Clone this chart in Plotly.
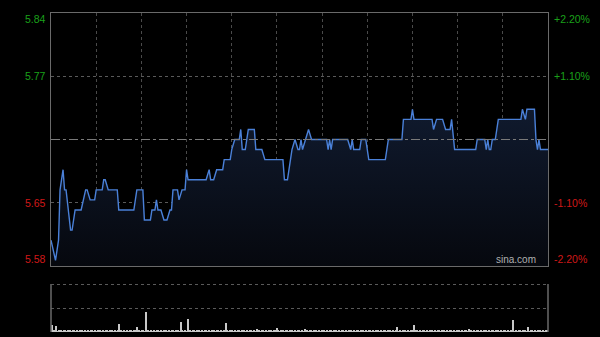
import plotly.graph_objects as go

# ---- data ----
prev_close = 5.71
pct_ticks = [0.022, 0.011, -0.011, -0.022]
pct_labels = ["+2.20%", "+1.10%", "-1.10%", "-2.20%"]
price_labels = ["5.84", "5.77", "5.65", "5.58"]

# minute from 09:30 (HK session, 330 minutes) and price at change points
minutes = [0, 3, 5, 6, 8, 9, 10, 13, 14, 15, 16, 20, 23, 24, 26, 29, 30, 34, 35, 36, 38, 44, 45,
           55, 57, 61, 62, 66, 67, 69, 70, 71, 73, 75, 77, 79, 80, 81, 84, 85, 87, 89, 90, 91,
           103, 105, 106, 108, 110, 114, 115, 119, 120, 122, 125, 126, 127, 129, 131, 135, 136,
           140, 142, 154, 155, 157, 159, 160, 162, 164, 165, 166, 167, 169, 171, 173, 183, 184,
           185, 186, 187, 197, 199, 200, 201, 205, 206, 209, 211, 222, 224, 233, 234, 239, 240,
           241, 253, 254, 256, 260, 262, 265, 266, 268, 282, 283, 288, 289, 290, 291, 292, 293,
           295, 297, 312, 313, 315, 316, 321, 322, 323, 324, 325, 330]
prices = [5.61, 5.59, 5.61, 5.66, 5.68, 5.66, 5.66, 5.62, 5.62, 5.63, 5.64, 5.64, 5.66, 5.66, 5.65,
          5.65, 5.66, 5.66, 5.67, 5.67, 5.66, 5.66, 5.64,
          5.64, 5.66, 5.66, 5.63, 5.63, 5.64, 5.64, 5.65, 5.64, 5.64, 5.63, 5.63, 5.64, 5.64, 5.66,
          5.66, 5.65, 5.66, 5.66, 5.68, 5.67,
          5.67, 5.68, 5.67, 5.67, 5.68, 5.68, 5.69, 5.69, 5.70, 5.71, 5.71, 5.72, 5.70, 5.70, 5.72,
          5.72, 5.70,
          5.70, 5.69, 5.69, 5.67, 5.67, 5.69, 5.70, 5.71, 5.70, 5.70, 5.71, 5.70, 5.71, 5.72, 5.71,
          5.71, 5.70,
          5.71, 5.70, 5.71, 5.71, 5.70, 5.71, 5.70, 5.70, 5.71, 5.71, 5.69, 5.69, 5.71, 5.71, 5.73,
          5.73, 5.74,
          5.73, 5.73, 5.72, 5.73, 5.73, 5.72, 5.72, 5.73, 5.70, 5.70, 5.71, 5.71, 5.70, 5.71, 5.70,
          5.70, 5.71,
          5.71, 5.73, 5.73, 5.74, 5.73, 5.74, 5.74, 5.71, 5.70, 5.71, 5.70, 5.70]

# per-minute volume (arbitrary units)
volume = [
    73, 12, 15, 63, 10, 14, 12, 10, 15, 12, 10, 14, 12, 10, 12, 15, 10, 12, 10, 14, 12, 10, 12, 10, 14, 10, 12, 15, 10, 12,
    10, 12, 14, 10, 12, 10, 15, 12, 10, 12, 14, 10, 12, 10, 12, 83, 12, 10, 14, 10, 12, 10, 12, 15, 10, 12, 14, 47, 12, 10,
    12, 14, 10, 203, 12, 10, 14, 10, 12, 10, 12, 15, 10, 12, 10, 14, 12, 10, 12, 10, 14, 12, 10, 15, 12, 10, 103, 12, 10, 14,
    10, 130, 12, 10, 14, 12, 10, 12, 15, 10, 12, 10, 14, 12, 10, 12, 10, 14, 12, 10, 12, 15, 10, 12, 10, 14, 93, 12, 10, 12,
    14, 10, 12, 10, 15, 12, 10, 12, 14, 10, 12, 10, 12, 15, 10, 12, 10, 30, 12, 10, 14, 12, 10, 12, 10, 15, 12, 10, 12, 14,
    40, 12, 10, 14, 12, 10, 12, 15, 10, 12, 14, 10, 12, 10, 12, 15, 10, 12, 10, 30, 12, 10, 14, 12, 10, 12, 15, 10, 12, 10,
    14, 12, 10, 12, 10, 15, 12, 10, 12, 14, 10, 12, 10, 12, 15, 10, 12, 10, 14, 12, 10, 12, 10, 15, 12, 10, 12, 14, 10, 12,
    10, 12, 15, 10, 12, 10, 14, 12, 10, 12, 10, 15, 12, 10, 12, 14, 10, 12, 10, 12, 50, 10, 12, 10, 14, 12, 10, 12, 10, 15,
    12, 67, 12, 14, 10, 12, 10, 12, 15, 10, 12, 10, 14, 12, 10, 12, 10, 15, 12, 10, 12, 14, 10, 12, 10, 12, 15, 10, 12, 10,
    14, 12, 10, 12, 10, 15, 12, 10, 30, 14, 10, 12, 10, 12, 15, 10, 12, 10, 14, 12, 10, 12, 10, 15, 12, 10, 12, 14, 10, 12,
    10, 12, 15, 10, 12, 10, 14, 123, 10, 12, 10, 15, 12, 10, 12, 14, 10, 47, 10, 12, 15, 10, 12, 10, 14, 12, 10, 12, 10, 15,
    12, 10, 12, 123, 10, 12, 10, 40, 15, 10, 12,
]
vol_minutes = list(range(len(volume)))

# ---- derived scale values ----
y_lo = prev_close * (1 - 0.022)
y_hi = prev_close * (1 + 0.022)

fig = go.Figure()

# baseline for fill
fig.add_trace(go.Scatter(x=[minutes[0], minutes[-1]], y=[y_lo, y_lo], mode="lines",
                         line=dict(width=0, color="rgba(0,0,0,0)"), hoverinfo="skip",
                         showlegend=False, xaxis="x", yaxis="y"))
fig.add_trace(go.Scatter(x=minutes, y=prices, mode="lines",
                         line=dict(color="#4a80d8", width=1.4),
                         fill="tonexty",
                         fillgradient=dict(type="vertical", start=y_lo, stop=max(prices),
                                           colorscale=[[0, "rgb(6,8,14)"], [1, "rgb(16,26,46)"]]),
                         showlegend=False, xaxis="x", yaxis="y"))

fig.add_trace(go.Bar(x=vol_minutes, y=volume, width=0.7,
                     marker=dict(color="#c8c8c8", line=dict(width=0)),
                     showlegend=False, xaxis="x2", yaxis="y2"))

grid_color = "#4a4a4a"
border_color = "#6a6a6a"

fig.update_layout(
    width=600, height=337,
    margin=dict(l=0, r=0, t=0, b=0),
    paper_bgcolor="black", plot_bgcolor="black",
    font=dict(family="Liberation Sans, Arial", size=10),
    xaxis=dict(domain=[51 / 600, 548 / 600], range=[0, 330], dtick=30, tick0=0,
               showgrid=True, gridcolor=grid_color, griddash="dot", gridwidth=1,
               showticklabels=False, zeroline=False, ticks="",
               showline=True, linecolor=border_color, mirror=True, anchor="y"),
    yaxis=dict(domain=[1 - 266 / 337, 1 - 13 / 337], range=[y_lo, y_hi],
               tickvals=[prev_close * (1 + 0.011), prev_close * (1 - 0.011)],
               showgrid=True, gridcolor="#5a5a5a", griddash="dot",
               showticklabels=False, zeroline=False, ticks="",
               showline=True, linecolor=border_color, mirror=True, anchor="x"),
    xaxis2=dict(domain=[51 / 600, 548 / 600], range=[-0.5, 330.5], showgrid=False,
                showticklabels=False, zeroline=False, ticks="", anchor="y2"),
    yaxis2=dict(domain=[1 - 332 / 337, 1 - 285 / 337], range=[0, 470],
                tickvals=[235], showgrid=True, gridcolor="#5a5a5a", griddash="dot",
                showticklabels=False, zeroline=False, ticks="", anchor="x2"),
    bargap=0,
)

# previous close line
fig.add_shape(type="line", xref="x", yref="y", x0=0, x1=330, y0=prev_close, y1=prev_close,
              line=dict(color="#7a7a7a", width=1, dash="dashdot"))
# volume pane side borders and dotted top
for xv in [51 / 600, 548 / 600]:
    fig.add_shape(type="line", xref="paper", yref="paper", x0=xv, x1=xv,
                  y0=1 - 332 / 337, y1=1 - 284 / 337, line=dict(color=border_color, width=1.5))
fig.add_shape(type="line", xref="paper", yref="paper", x0=51 / 600, x1=548 / 600,
              y0=1 - 284.5 / 337, y1=1 - 284.5 / 337, line=dict(color="#5a5a5a", width=1, dash="dot"))

# axis labels
for pct, pl, rl in zip(pct_ticks, price_labels, pct_labels):
    col = "#1aa01a" if pct > 0 else "#d01818"
    yv = prev_close * (1 + pct)
    if abs(pct) > 0.015:
        ya = "top" if pct > 0 else "bottom"
        yshift = 2 if pct > 0 else -1
    else:
        ya = "middle"
        yshift = 0
    fig.add_annotation(xref="paper", yref="y", x=48 / 600, y=yv, text=pl, showarrow=False,
                       xanchor="right", yanchor=ya, yshift=yshift, font=dict(color=col, size=10.5))
    fig.add_annotation(xref="paper", yref="y", x=552 / 600, y=yv, text=rl, showarrow=False,
                       xanchor="left", yanchor=ya, yshift=yshift, font=dict(color=col, size=10.5))

fig.add_annotation(xref="paper", yref="paper", x=538 / 600, y=1 - 267 / 337, text="sina.com",
                   showarrow=False, xanchor="right", yanchor="bottom",
                   font=dict(color="#b0b0b0", size=10))

fig.write_html("out.html")
